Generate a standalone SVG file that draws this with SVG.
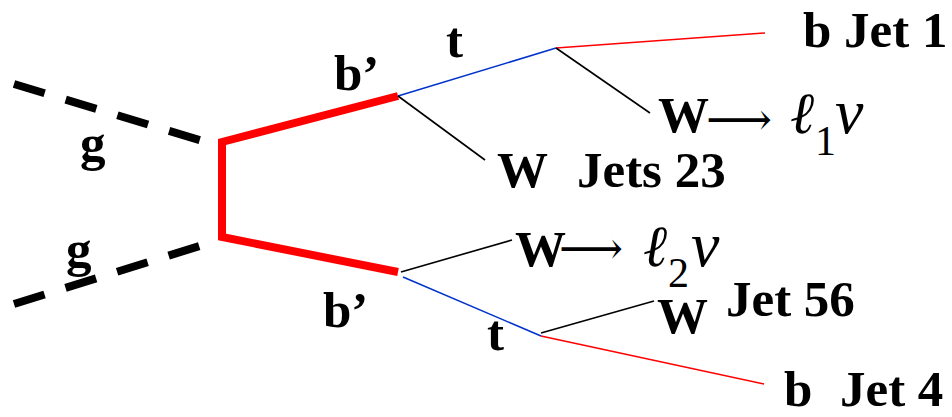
<svg xmlns="http://www.w3.org/2000/svg" width="952" height="417" viewBox="0 0 952 417">
<style>
.lbl{font-family:"Liberation Serif","Times New Roman",Times,"DejaVu Serif",serif;font-weight:bold;font-size:51px;fill:#000}
.it{font-family:"Liberation Serif","Times New Roman",Times,"DejaVu Serif",serif;font-style:italic;font-size:58px;fill:#000}
.nu{font-family:"Liberation Serif","Times New Roman",Times,"DejaVu Serif",serif;font-style:italic;font-size:64px;fill:#000}
.sub{font-family:"Liberation Serif","Times New Roman",Times,"DejaVu Serif",serif;font-size:42px;fill:#000}
.arr{font-family:"DejaVu Serif","DejaVu Sans",serif;font-size:46px;fill:#000}
.gl{stroke:#000;stroke-width:8;stroke-dasharray:32,22;fill:none}
.bp{stroke:#ff0000;stroke-width:8;fill:none;stroke-linejoin:miter}
.top{stroke:#0033cc;stroke-width:1.6;fill:none}
.bot{stroke:#ff0000;stroke-width:1.6;fill:none}
.wb{stroke:#000;stroke-width:1.6;fill:none}
</style>
<rect width="952" height="417" fill="#fff"/>
<g id="connectors">
<line class="gl" x1="14" y1="84" x2="206" y2="142"/>
<line class="gl" x1="14" y1="304" x2="206" y2="244"/>
<polyline class="bp" points="398,96 222,142 222,237 398,272"/>
<line class="top" x1="398" y1="96" x2="556" y2="48"/>
<line class="bot" x1="556" y1="48" x2="765" y2="33"/>
<line class="wb" x1="556" y1="48" x2="650" y2="113"/>
<line class="wb" x1="398" y1="96" x2="485" y2="160"/>
<line class="wb" x1="401" y1="272" x2="512" y2="240"/>
<line class="top" x1="403" y1="277" x2="541" y2="336"/>
<line class="wb" x1="541" y1="333" x2="654" y2="301"/>
<line class="bot" x1="541" y1="336" x2="764" y2="384"/>
</g>
<g id="g1"><text class="lbl" x="80" y="160">g</text></g>
<g id="g2"><text class="lbl" x="66" y="266">g</text></g>
<g id="bp1"><text class="lbl" x="334" y="90">b’</text></g>
<g id="bp2"><text class="lbl" x="323" y="327">b’</text></g>
<g id="t1"><text class="lbl" x="446" y="57">t</text></g>
<g id="t2"><text class="lbl" x="487" y="350">t</text></g>
<g id="bjet1"><text class="lbl" x="803" y="47">b Jet 1</text></g>
<g id="wjets23"><text class="lbl" x="497" y="187">W</text><text class="lbl" x="577" y="187">Jets 23</text></g>
<g id="wl1"><text class="lbl" x="658" y="132">W</text><text class="arr" x="706" y="135" textLength="66" lengthAdjust="spacingAndGlyphs">⟶</text><text class="it" x="790" y="133">ℓ</text><text class="sub" x="815" y="155">1</text><text class="nu" x="835" y="133">ν</text></g>
<g id="wl2"><text class="lbl" x="515" y="266">W</text><text class="arr" x="559" y="264" textLength="64" lengthAdjust="spacingAndGlyphs">⟶</text><text class="it" x="643" y="266">ℓ</text><text class="sub" x="668" y="287">2</text><text class="nu" x="691" y="266">ν</text></g>
<g id="wjet56"><text class="lbl" x="657" y="333">W</text><text class="lbl" x="726" y="316">Jet 56</text></g>
<g id="bjet4"><text class="lbl" x="784" y="406">b</text><text class="lbl" x="840" y="406">Jet 4</text></g>
</svg>
